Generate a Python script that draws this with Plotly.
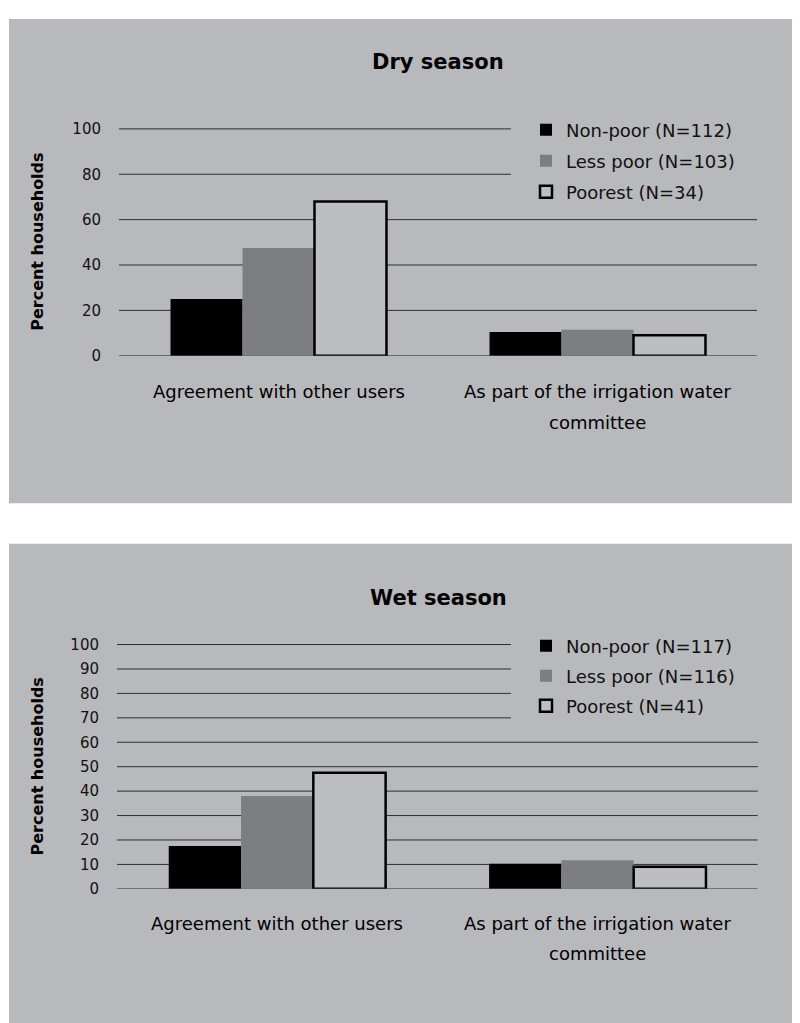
import plotly.graph_objects as go

# ---------------- data ----------------
categories = ["Agreement with other users", "As part of the irrigation water committee"]
label_lines = [["Agreement with other users"], ["As part of the irrigation water", "committee"]]

dry_series = ["Non-poor (N=112)", "Less poor (N=103)", "Poorest (N=34)"]
dry_nonpoor = [25, 10.5]
dry_lesspoor = [47.5, 11.5]
dry_poorest = [68, 9]

wet_series = ["Non-poor (N=117)", "Less poor (N=116)", "Poorest (N=41)"]
wet_nonpoor = [17.5, 10.3]
wet_lesspoor = [38, 11.7]
wet_poorest = [47.5, 9]

dry_ticks = [0, 20, 40, 60, 80, 100]
wet_ticks = [0, 10, 20, 30, 40, 50, 60, 70, 80, 90, 100]

titles = ["Dry season", "Wet season"]
ytitle = "Percent households"

# ---------------- style ----------------
W, H = 800, 1023
OFF = 8  # page body margin
BG = "#b8b9bd"
C_NONPOOR = "#000000"
C_LESS = "#7d7e82"
C_POOREST = "#bdbec2"
GRID = "#2e2e2e"
FONT = "DejaVu Sans"
YMAX = 101.5  # a bit of headroom so the 100 gridline is not clipped


def px_x(v):
    return (v - OFF) / W


def px_y(v):
    return 1 - (v - OFF) / H


fig = go.Figure()

# pixel geometry of the two plot areas (x extent, 0 line, 100 line)
top_x = (119, 757)
top_y0, top_y100 = 355.5, 125.5
bot_x = (117, 757.7)
bot_y0, bot_y100 = 896, 648.3


def ytop(y0, y100):
    return y0 - (y0 - y100) * YMAX / 100.0


panels = [
    dict(series=dry_series, vals=[dry_nonpoor, dry_lesspoor, dry_poorest], xa="x", ya="y",
         legend="legend", ticks=dry_ticks, xpx=top_x, legend_min=70),
    dict(series=wet_series, vals=[wet_nonpoor, wet_lesspoor, wet_poorest], xa="x2", ya="y2",
         legend="legend2", ticks=wet_ticks, xpx=bot_x, legend_min=65),
]

fills = [C_NONPOOR, C_LESS, C_POOREST]
shapes = [
    # panel backgrounds
    dict(type="rect", xref="paper", yref="paper", x0=px_x(9), x1=1.05, y0=px_y(505), y1=px_y(14),
         fillcolor=BG, line=dict(width=0), layer="below"),
    dict(type="rect", xref="paper", yref="paper", x0=px_x(9), x1=1.05, y0=-0.05, y1=px_y(546),
         fillcolor=BG, line=dict(width=0), layer="below"),
]

for p in panels:
    for i, (name, vals) in enumerate(zip(p["series"], p["vals"])):
        fig.add_trace(go.Bar(
            x=categories, y=vals, name=name,
            xaxis=p["xa"], yaxis=p["ya"], legend=p["legend"],
            legendgroup=p["legend"] + str(i),
            marker=dict(color=fills[i],
                        line=dict(color="#000000", width=2.5 if i == 2 else 0)),
            hoverinfo="skip",
        ))
    # horizontal gridlines; those behind the legend stop where the legend starts
    brk = (511 - p["xpx"][0]) / (p["xpx"][1] - p["xpx"][0])
    for v in p["ticks"]:
        shapes.append(dict(type="line", xref=p["xa"] + " domain", yref=p["ya"],
                           x0=0, x1=brk if v >= p["legend_min"] else 1, y0=v, y1=v,
                           line=dict(color=GRID, width=1), layer="below"))

axis_common = dict(showgrid=False, zeroline=False, showline=False, ticks="", showticklabels=False,
                   fixedrange=True)
yaxis_common = dict(showgrid=False, zeroline=False, showline=False,
                    ticks="", tickfont=dict(family=FONT, size=15, color="#111111"),
                    ticklabelstandoff=17, range=[0, YMAX], fixedrange=True)

legend_common = dict(xanchor="left", yanchor="top", bgcolor="rgba(0,0,0,0)",
                     font=dict(family=FONT, size=18, color="#111111"),
                     traceorder="grouped")

fig.update_layout(
    width=W, height=H,
    margin=dict(l=0, r=0, t=0, b=0),
    paper_bgcolor="white", plot_bgcolor="rgba(0,0,0,0)",
    barmode="group", bargap=0.323, bargroupgap=0,
    shapes=shapes,
    xaxis=dict(domain=[px_x(top_x[0]), px_x(top_x[1])], anchor="y", **axis_common),
    yaxis=dict(domain=[px_y(top_y0), px_y(ytop(top_y0, top_y100))], anchor="x",
               tickvals=dry_ticks, **yaxis_common),
    xaxis2=dict(domain=[px_x(bot_x[0]), px_x(bot_x[1])], anchor="y2", **axis_common),
    yaxis2=dict(domain=[px_y(bot_y0), px_y(ytop(bot_y0, bot_y100))], anchor="x2",
                tickvals=wet_ticks, **yaxis_common),
    legend=dict(x=px_x(526), y=px_y(108), tracegroupgap=4.6, **legend_common),
    legend2=dict(x=px_x(526), y=px_y(631), tracegroupgap=3.6, **legend_common),
    showlegend=True,
)

annotations = []
for t, yc in zip(titles, [58, 601]):
    annotations.append(dict(text="<b>%s</b>" % t, xref="paper", yref="paper", x=px_x(438), y=px_y(yc),
                            xanchor="center", yanchor="middle", showarrow=False,
                            font=dict(family=FONT, size=21, color="#000000")))
for yc in [240, 772]:
    annotations.append(dict(text="<b>%s</b>" % ytitle, xref="paper", yref="paper", x=px_x(38), y=px_y(yc),
                            xanchor="center", yanchor="middle", showarrow=False, textangle=-90,
                            font=dict(family=FONT, size=16, color="#000000")))
for xa, base in [("x", 392), ("x2", 931)]:
    for cat, lines in zip(categories, label_lines):
        for k, line in enumerate(lines):
            annotations.append(dict(text=line, xref=xa, yref="paper", x=cat, y=px_y(base + 31 * k),
                                    xanchor="center", yanchor="middle", showarrow=False,
                                    font=dict(family=FONT, size=18, color="#000000")))
fig.update_layout(annotations=annotations)

fig.write_html("out.html")
